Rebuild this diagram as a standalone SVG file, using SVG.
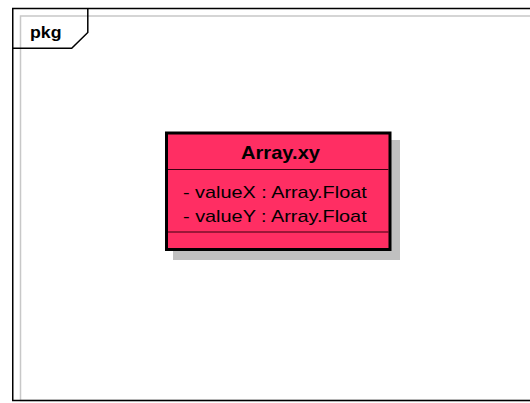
<svg xmlns="http://www.w3.org/2000/svg" width="530" height="403" viewBox="0 0 530 403">
<style>
.frame{fill:none;stroke:#000;stroke-width:1.5}
.inner{fill:none;stroke:#c8c8c8;stroke-width:1.5}
.cls{fill:#ff2e63;stroke:#000;stroke-width:3}
.sep{stroke:#3a0010;stroke-width:1.2}
.shadow{fill:#c0c0c0}
text{font-family:"Liberation Sans",Arial,sans-serif;fill:#000}
.b{font-weight:bold}
</style>
<rect width="530" height="403" fill="#fff"/>
<g id="pkg">
<rect class="inner" x="20.5" y="16" width="530" height="384.5"/>
<polyline class="frame" points="540,8.5 12.75,8.5 12.75,400.5 540,400.5"/>
<polyline class="frame" points="12.75,48.2 71.7,48.2 87.8,32.5 87.8,8.5"/>
<text class="b" x="30" y="37.5" font-size="17" textLength="31.5" lengthAdjust="spacingAndGlyphs">pkg</text>
</g>
<g id="connectors"></g>
<g id="Array.xy">
<rect class="shadow" x="173" y="140" width="227" height="120"/>
<rect class="cls" x="166.5" y="133" width="223.5" height="116.5"/>
<line class="sep" x1="168" y1="169.5" x2="388.5" y2="169.5"/>
<line class="sep" x1="168" y1="232" x2="388.5" y2="232"/>
<text class="b" x="241" y="159" font-size="18.5" textLength="79" lengthAdjust="spacingAndGlyphs">Array.xy</text>
<text x="183" y="198.3" font-size="17" textLength="183.7" lengthAdjust="spacingAndGlyphs">- valueX : Array.Float</text>
<text x="183" y="222" font-size="17" textLength="183.7" lengthAdjust="spacingAndGlyphs">- valueY : Array.Float</text>
</g>
</svg>
